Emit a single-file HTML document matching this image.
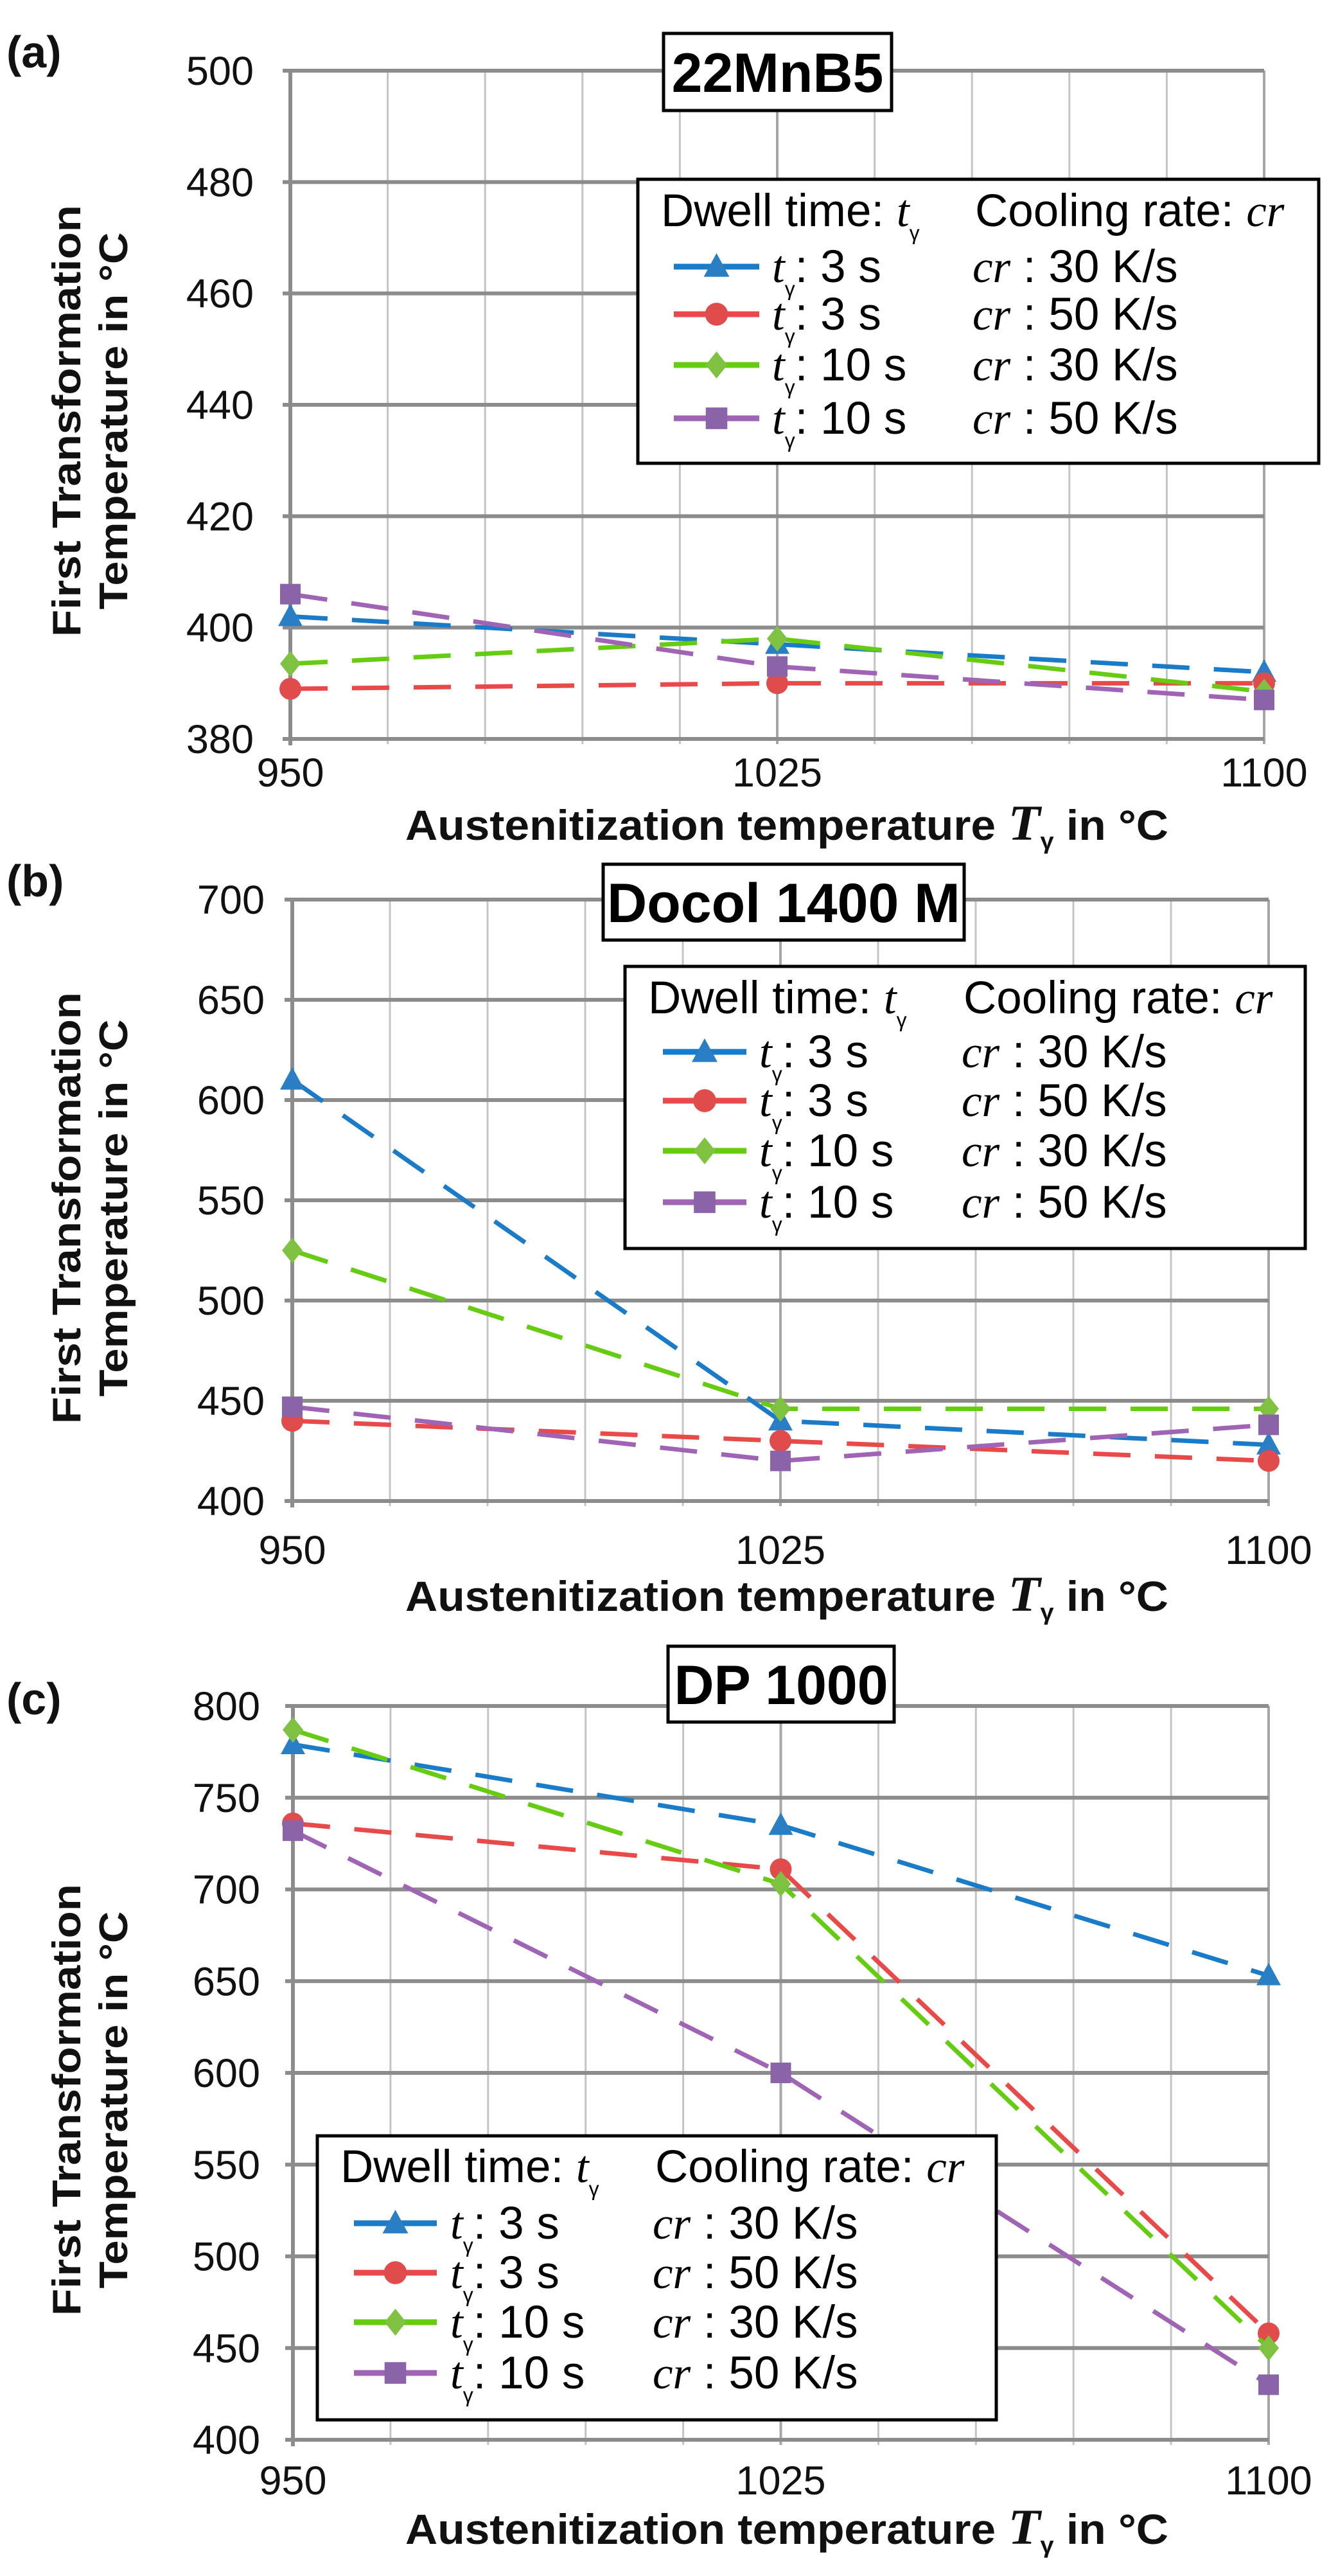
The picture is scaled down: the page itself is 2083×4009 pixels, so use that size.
<!DOCTYPE html>
<html><head><meta charset="utf-8">
<style>
html,body{margin:0;padding:0;background:#fff;}
svg{display:block;}
text{font-family:"Liberation Sans Narrow","Liberation Sans",sans-serif;}
.it{font-family:"Liberation Serif",serif;font-style:italic;}
.bold{font-family:"Liberation Sans",sans-serif;font-weight:bold;}
</style></head>
<body>
<svg id="chart" width="2083" height="4009" viewBox="0 0 2083 4009" xmlns="http://www.w3.org/2000/svg"></svg>
<script>
const seriesNames = ["t3-cr30","t3-cr50","t10-cr30","t10-cr50"];
const seriesColors = ["#2a7fc4","#e04c4c","#7fc241","#8a63a8"];
const lineColors = ["#1a7cc8","#e84a4a","#66cc11","#a064b4"];
const markers = ["triangle","circle","diamond","square"];
const xCats = [950,1025,1100];
const xTickLabels = ["950","1025","1100"];
const legendLeft = ["3 s","3 s","10 s","10 s"];
const legendRight = ["30 K/s","50 K/s","30 K/s","50 K/s"];

const aTitle = "22MnB5";
const aTicks = [380,400,420,440,460,480,500];
const aT3cr30 = [402,397,392];
const aT3cr50 = [389,390,390];
const aT10cr30 = [393.5,398,388.5];
const aT10cr50 = [406,393,387];

const bTitle = "Docol 1400 M";
const bTicks = [400,450,500,550,600,650,700];
const bT3cr30 = [610,440,428];
const bT3cr50 = [440,430,420];
const bT10cr30 = [525,446,446];
const bT10cr50 = [447,420,438];

const cTitle = "DP 1000";
const cTicks = [400,450,500,550,600,650,700,750,800];
const cT3cr30 = [779,735,653];
const cT3cr50 = [736,711,458];
const cT10cr30 = [787,703,450];
const cT10cr50 = [732,600,430];

const NS="http://www.w3.org/2000/svg";
const svg=document.getElementById('chart');
function mk(tag,attrs,parent){const e=document.createElementNS(NS,tag);for(const k in attrs)e.setAttribute(k,attrs[k]);(parent||svg).appendChild(e);return e;}

function marker(g,type,cx,cy,color,s){
  let m;
  if(type==="triangle") m=mk('polygon',{points:`${cx},${cy-s} ${cx+s*0.95},${cy+s*0.75} ${cx-s*0.95},${cy+s*0.75}`,fill:color},g);
  else if(type==="circle") m=mk('circle',{cx:cx,cy:cy,r:s*0.85,fill:color},g);
  else if(type==="diamond") m=mk('polygon',{points:`${cx},${cy-s} ${cx+s*0.8},${cy} ${cx},${cy+s} ${cx-s*0.8},${cy}`,fill:color},g);
  else m=mk('rect',{x:cx-s*0.8,y:cy-s*0.8,width:s*1.6,height:s*1.6,fill:color},g);
  return m;
}

function tgamma(g,x,y,size,rest,prefix){
  const t=mk('text',{x:x,y:y,'font-size':size},g);
  if(prefix){const p=mk('tspan',{},t); p.textContent=prefix;}
  const a=mk('tspan',{class:'it'},t); a.textContent='t';
  const b=mk('tspan',{dy:size*0.3,'font-size':size*0.45},t); b.textContent='γ';
  const c=mk('tspan',{dy:-size*0.3},t); c.textContent=rest;
  return t;
}

function panel(cfg){
  const g=mk('g',{});
  
  
  const {x0,x1,y0,y1,ymin,ymax}=cfg;
  const X=v=>x0+(v-950)/(1100-950)*(x1-x0);
  const Y=v=>y1-(v-ymin)/(ymax-ymin)*(y1-y0);
  for(let i=1;i<=10;i++){
    const v=950+i*15, xx=X(v);
    const ln=mk('line',{x1:xx,y1:y0,x2:xx,y2:y1+8,stroke:(i===5||i===10)?'#a6a6a6':'#c4c4c4','stroke-width':(i===5||i===10)?4:3},g);
    
    
  }
  cfg.ticks.forEach(t=>{
    const yy=Y(t);
    const ln=mk('line',{x1:x0-12,y1:yy,x2:x1,y2:yy,stroke:'#8c8c8c','stroke-width':6},g);
    
    
    const tx=mk('text',{x:cfg.tickX,y:yy+22,'font-size':63,'text-anchor':'end',fill:'#111'},g);
    tx.textContent=String(t);
    
    
  });
  const ax=mk('line',{x1:x0,y1:y0-3,x2:x0,y2:y1+10,stroke:'#8c8c8c','stroke-width':6},g);
  
  
  xCats.forEach((c,i)=>{
    const tx=mk('text',{x:X(c),y:cfg.xTickY+22,'font-size':63,'text-anchor':'middle',fill:'#111'},g);
    tx.textContent=xTickLabels[i];
    
    
  });
  cfg.data.forEach((arr,si)=>{
    const sg=mk('g',{},g);
    
    
    const pts=arr.map((v,i)=>X(xCats[i])+','+Y(v)).join(' ');
    const pl=mk('polyline',{points:pts,fill:'none',stroke:lineColors[si],'stroke-width':7,'stroke-dasharray':'58 38'},sg);
    
    
    arr.forEach((v,i)=>{
      const m=marker(sg,markers[si],X(xCats[i]),Y(v),seriesColors[si],20);
      
      
    });
  });
  const yt=mk('text',{transform:`translate(${cfg.ytX1},${cfg.ytY}) rotate(-90)`,'font-size':62,'text-anchor':'middle',class:'bold',fill:'#111',textLength:672,lengthAdjust:'spacingAndGlyphs'},g);
  yt.textContent='First Transformation';
  
  
  const yt2=mk('text',{transform:`translate(${cfg.ytX1+73},${cfg.ytY}) rotate(-90)`,'font-size':62,'text-anchor':'middle',class:'bold',fill:'#111',textLength:587,lengthAdjust:'spacingAndGlyphs'},g);
  yt2.textContent='Temperature in °C';
  
  
  const xt=mk('text',{x:631,y:cfg.xtY+24,'font-size':66,fill:'#111','font-weight':'bold',textLength:1188,lengthAdjust:'spacingAndGlyphs'},g);
  
  
  const s1=mk('tspan',{},xt); s1.textContent='Austenitization temperature ';
  const s2=mk('tspan',{class:'it','font-size':78},xt); s2.textContent='T';
  const s3=mk('tspan',{dy:14,'font-size':36},xt); s3.textContent='γ';
  const s4=mk('tspan',{dy:-14},xt); s4.textContent=' in °C';
  const pl=mk('text',{x:10,y:cfg.letterY,'font-size':70,fill:'#111','font-weight':'bold'},g);
  pl.textContent='('+cfg.id+')';
  
  
  const tb=cfg.tbox;
  const tr=mk('rect',{x:tb[0],y:tb[1],width:tb[2]-tb[0],height:tb[3]-tb[1],fill:'#fff',stroke:'#000','stroke-width':5},g);
  
  
  const tt=mk('text',{x:(tb[0]+tb[2])/2,y:(tb[1]+tb[3])/2+31,'font-size':86,'text-anchor':'middle','font-weight':'bold',fill:'#000'},g);
  tt.textContent=cfg.title;
  
  
  const L=cfg.leg;
  const lg=mk('g',{},g);
  
  
  mk('rect',{x:L.x0,y:L.y0,width:L.x1-L.x0,height:L.y1-L.y0,fill:'#fff',stroke:'#000','stroke-width':5},lg);
  const fs=71;
  tgamma(lg,L.x0+36,L.head+24,fs,'','Dwell time: ');
  const ch=mk('text',{x:L.cr,y:L.head+24,'font-size':fs},lg);
  const c1=mk('tspan',{},ch); c1.textContent='Cooling rate: ';
  const c2=mk('tspan',{class:'it'},ch); c2.textContent='cr';
  L.rows.forEach((ry,i)=>{
    const eg=mk('g',{},lg);
    
    
    mk('line',{x1:L.lx0,y1:ry,x2:L.lx1,y2:ry,stroke:lineColors[i],'stroke-width':9},eg);
    marker(eg,markers[i],(L.lx0+L.lx1)/2,ry,seriesColors[i],21);
    tgamma(eg,L.tx,ry+24,fs,': '+legendLeft[i]);
    const r=mk('text',{x:L.crx,y:ry+24,'font-size':fs},eg);
    const r1=mk('tspan',{class:'it'},r); r1.textContent='cr';
    const r2=mk('tspan',{},r); r2.textContent=' : '+legendRight[i];
  });
}

panel({id:'a',title:aTitle,ticks:aTicks,ymin:380,ymax:500,x0:452,x1:1968,y0:110,y1:1150,tickX:395,xTickY:1202,xtY:1283,
  ytX1:125,ytY:655,letterY:105,tbox:[1033,52,1388,172],
  data:[aT3cr30,aT3cr50,aT10cr30,aT10cr50],
  leg:{x0:993,y0:279,x1:2053,y1:721,head:328,rows:[415,489,568,651],lx0:1049,lx1:1182,tx:1202,cr:1518,crx:1514}});
panel({id:'b',title:bTitle,ticks:bTicks,ymin:400,ymax:700,x0:455,x1:1975,y0:1400,y1:2336,tickX:412,xTickY:2412,xtY:2483,
  ytX1:125,ytY:1880,letterY:1395,tbox:[939,1345,1501,1463],
  data:[bT3cr30,bT3cr50,bT10cr30,bT10cr50],
  leg:{x0:973,y0:1504,x1:2032,y1:1943,head:1553,rows:[1637,1713,1791,1871],lx0:1032,lx1:1162,tx:1182,cr:1500,crx:1497}});
panel({id:'c',title:cTitle,ticks:cTicks,ymin:400,ymax:800,x0:456,x1:1975,y0:2655,y1:3797,tickX:405,xTickY:3860,xtY:3935,
  ytX1:125,ytY:3268,letterY:2668,tbox:[1040,2562,1392,2680],
  data:[cT3cr30,cT3cr50,cT10cr30,cT10cr50],
  leg:{x0:494,y0:3324,x1:1551,y1:3766,head:3372,rows:[3460,3537,3614,3693],lx0:551,lx1:680,tx:701,cr:1020,crx:1016}});
</script>
</body></html>
